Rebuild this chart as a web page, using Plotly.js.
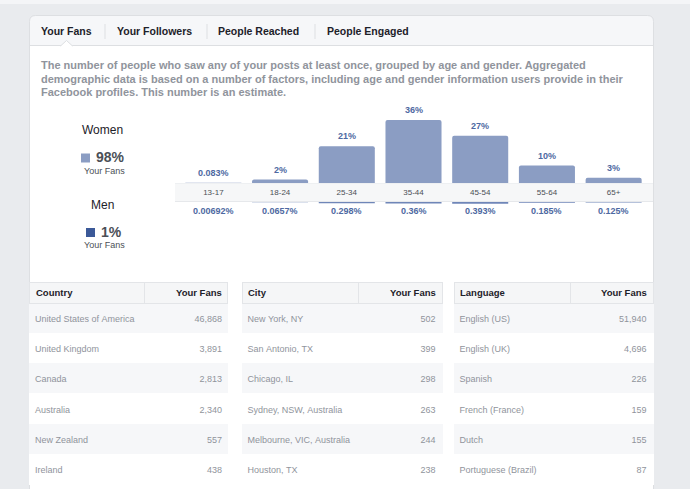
<!DOCTYPE html>
<html>
<head>
<meta charset="utf-8">
<script src="https://cdn.plot.ly/plotly-3.0.1.min.js"></script>
<style>html,body{margin:0;padding:0;background:#e9ebee;}#chart{width:690px;height:489px;}</style>
</head>
<body>
<div id="chart"></div>
<script>
// ---------- data ----------
const tabs = ['Your Fans', 'Your Followers', 'People Reached', 'People Engaged'];
const description = [
  'The number of people who saw any of your posts at least once, grouped by age and gender. Aggregated',
  'demographic data is based on a number of factors, including age and gender information users provide in their',
  'Facebook profiles. This number is an estimate.'
];
const genderNames = ['Women', 'Men'];
const genderShare = [98, 1];
const ageGroups = ['13-17', '18-24', '25-34', '35-44', '45-54', '55-64', '65+'];
const womenPct = [0.083, 2, 21, 36, 27, 10, 3];
const menPct = [0.00692, 0.0657, 0.298, 0.36, 0.393, 0.185, 0.125];

const tableHeads = [['Country', 'Your Fans'], ['City', 'Your Fans'], ['Language', 'Your Fans']];
const countryNames = ['United States of America', 'United Kingdom', 'Canada', 'Australia', 'New Zealand', 'Ireland'];
const countryFans = [46868, 3891, 2813, 2340, 557, 438];
const cityNames = ['New York, NY', 'San Antonio, TX', 'Chicago, IL', 'Sydney, NSW, Australia', 'Melbourne, VIC, Australia', 'Houston, TX'];
const cityFans = [502, 399, 298, 263, 244, 238];
const languageNames = ['English (US)', 'English (UK)', 'Spanish', 'French (France)', 'Dutch', 'Portuguese (Brazil)'];
const languageFans = [51940, 4696, 226, 159, 155, 87];

// ---------- layout helpers ----------
const W = 690, H = 489;
const X = p => p / W;
const Y = p => 1 - p / H;
const FONT = 'Liberation Sans, Arial, Helvetica, sans-serif';
const DARK = '#1d2129', GREY = '#90949c', MID = '#4b4f56', LABEL = '#4e69a2';
const WOMEN = '#8b9dc3', MEN = '#3b5998', BORDER = '#dddfe2';
const CLEAR = 'rgba(0,0,0,0)';

const shapes = [];
const annotations = [];

// page strip + card
shapes.push({type: 'rect', xref: 'paper', yref: 'paper', x0: 0, x1: 1, y0: Y(4), y1: 1,
  fillcolor: '#f4f5f7', line: {width: 0}, layer: 'below'});
(function () {
  const x0 = 29.5, x1 = 653.5, t = 15.5, b = 500, r = 6;
  const path = `M ${X(x0)},${Y(b)} L ${X(x0)},${Y(t + r)} Q ${X(x0)},${Y(t)} ${X(x0 + r)},${Y(t)} ` +
    `L ${X(x1 - r)},${Y(t)} Q ${X(x1)},${Y(t)} ${X(x1)},${Y(t + r)} L ${X(x1)},${Y(b)} Z`;
  shapes.push({type: 'path', xref: 'paper', yref: 'paper', path: path,
    fillcolor: '#f6f7f9', line: {color: BORDER, width: 1}, layer: 'below'});
  shapes.push({type: 'rect', xref: 'paper', yref: 'paper', x0: X(30), x1: X(653), y0: Y(500), y1: Y(45.5),
    fillcolor: '#ffffff', line: {width: 0}, layer: 'below'});
  shapes.push({type: 'line', xref: 'paper', yref: 'paper', x0: X(29.5), x1: X(653.5), y0: Y(45.5), y1: Y(45.5),
    line: {color: BORDER, width: 1}, layer: 'below'});
  shapes.push({type: 'path', xref: 'paper', yref: 'paper',
    path: `M ${X(60.5)},${Y(46)} L ${X(66.5)},${Y(40.5)} L ${X(72.5)},${Y(46)}`,
    fillcolor: '#ffffff', line: {color: BORDER, width: 1}, layer: 'below'});
})();

// tabs
const tabX = [39, 115, 216, 325];
const sepX = [105, 207, 315];
tabs.forEach((t, i) => {
  annotations.push({xref: 'paper', yref: 'paper', x: X(tabX[i]), y: Y(31), xanchor: 'left', yanchor: 'middle',
    text: '<b>' + t + '</b>', showarrow: false, font: {family: FONT, size: 10.5, color: DARK}});
});
sepX.forEach(s => shapes.push({type: 'line', xref: 'paper', yref: 'paper', x0: X(s), x1: X(s), y0: Y(24), y1: Y(39),
  line: {color: BORDER, width: 1}, layer: 'below'}));

// description
const descY = [65.5, 79, 92.5];
description.forEach((d, i) => annotations.push({xref: 'paper', yref: 'paper', x: X(39), y: Y(descY[i]),
  xanchor: 'left', yanchor: 'middle', text: '<b>' + d + '</b>', showarrow: false,
  font: {family: FONT, size: 11, color: GREY}}));

// gender legend
const gTitle = [[102.5, 130], [102, 205]];
const gSq = [[81, 153.5], [86, 228]];
const gPct = [[94.5, 157.5], [98.5, 232.5]];
const gSub = [[104, 170.5], [104, 244.5]];
const gCol = [WOMEN, MEN];
genderNames.forEach((g, i) => {
  annotations.push({xref: 'paper', yref: 'paper', x: X(gTitle[i][0]), y: Y(gTitle[i][1]), xanchor: 'center', yanchor: 'middle',
    text: g, showarrow: false, font: {family: FONT, size: 12, color: DARK}});
  shapes.push({type: 'rect', xref: 'paper', yref: 'paper', x0: X(gSq[i][0]), x1: X(gSq[i][0] + 9),
    y0: Y(gSq[i][1] + 9), y1: Y(gSq[i][1]), fillcolor: gCol[i], line: {width: 0}});
  annotations.push({xref: 'paper', yref: 'paper', x: X(gPct[i][0]), y: Y(gPct[i][1]), xanchor: 'left', yanchor: 'middle',
    text: '<b>' + genderShare[i] + '%</b>', showarrow: false, font: {family: FONT, size: 14, color: '#4b4f56'}});
  annotations.push({xref: 'paper', yref: 'paper', x: X(gSub[i][0]), y: Y(gSub[i][1]), xanchor: 'center', yanchor: 'middle',
    text: 'Your Fans', showarrow: false, font: {family: FONT, size: 9, color: MID}});
});

// age band
shapes.push({type: 'rect', xref: 'paper', yref: 'paper', x0: X(175), x1: X(653), y0: Y(202), y1: Y(183),
  fillcolor: '#f6f7f8', line: {width: 0}, layer: 'below'});
shapes.push({type: 'line', xref: 'paper', yref: 'paper', x0: X(175), x1: X(653), y0: Y(201.5), y1: Y(201.5),
  line: {color: '#e6e8eb', width: 1}, layer: 'below'});
shapes.push({type: 'line', xref: 'paper', yref: 'paper', x0: X(175), x1: X(653), y0: Y(183.5), y1: Y(183.5),
  line: {color: '#eef0f2', width: 1}, layer: 'below'});

// bar labels
const fmt = v => v + '%';
ageGroups.forEach((a, i) => {
  annotations.push({xref: 'x', yref: 'y', x: a, y: womenPct[i], xanchor: 'center', yanchor: 'bottom', yshift: 3,
    text: '<b>' + fmt(womenPct[i]) + '</b>', showarrow: false, font: {family: FONT, size: 9, color: LABEL}});
  annotations.push({xref: 'x2', yref: 'paper', x: a, y: Y(211.5), xanchor: 'center', yanchor: 'middle',
    text: '<b>' + fmt(menPct[i]) + '</b>', showarrow: false, font: {family: FONT, size: 9, color: LABEL}});
});

const xDom = [X(180), X(647)];
const womenTop = 100, womenBase = 183, pxPerPct = 1.75;
const menTop = 202, menBottom = 262, menPxPerPct = 4.5;

// ---------- tables ----------
const tableX = [[29.5, 228], [242, 442], [454, 653]];
const headTop = 282, headH = 21, rowH = 30.3, textDrop = 4;
const rowFill = countryNames.map((_, i) => i % 2 === 0 ? '#f6f7f9' : '#ffffff');
const num = v => v.toLocaleString('en-US');
const keep = s => s.replace(/ /g, '\u00a0');
function tables(names, fans, k) {
  const [x0, x1] = tableX[k];
  annotations.push({xref: 'paper', yref: 'paper', x: X(x0 + 4), y: Y(headTop + headH / 2), xanchor: 'left', yanchor: 'middle',
    text: '<b>' + tableHeads[k][0] + '</b>', showarrow: false, font: {family: FONT, size: 9.5, color: DARK}});
  annotations.push({xref: 'paper', yref: 'paper', x: X(x1 - 4), y: Y(headTop + headH / 2), xanchor: 'right', yanchor: 'middle',
    text: '<b>' + tableHeads[k][1] + '</b>', showarrow: false, font: {family: FONT, size: 9.5, color: DARK}});
  const blank = names.map(() => '');
  // cell backgrounds
  const cellsTable = {
    type: 'table',
    domain: {x: [X(x0), X(x1)], y: [0, Y(headTop)]},
    columnwidth: [116, 83],
    header: {values: ['', ''], height: headH, fill: {color: '#f5f6f7'}, line: {color: '#e3e5e8', width: 1}},
    cells: {values: [blank, blank], height: rowH,
      fill: {color: [rowFill, rowFill]}, line: {color: [rowFill, rowFill], width: 1}}
  };
  // cell texts
  const hh = headH - textDrop;
  const textTable = {
    type: 'table',
    domain: {x: [X(x0 - 2.5), X(x1 + 2)], y: [0, Y(headTop + textDrop + (headH - hh))]},
    columnwidth: [116, 83],
    header: {values: ['', ''], height: hh, fill: {color: CLEAR}, line: {color: CLEAR, width: 0}},
    cells: {
      values: [names.map(keep), fans.map(num)],
      align: ['left', 'right'], height: rowH,
      fill: {color: CLEAR}, line: {color: CLEAR, width: 0},
      font: {family: FONT, size: 9, color: GREY}
    }
  };
  return [cellsTable, textTable];
}

const data = [
  {type: 'bar', x: ageGroups, y: womenPct, xaxis: 'x', yaxis: 'y', marker: {color: WOMEN, cornerradius: 2},
    hoverinfo: 'none', showlegend: false},
  {type: 'bar', x: ageGroups, y: menPct, xaxis: 'x2', yaxis: 'y2', marker: {color: '#6f86b8'},
    hoverinfo: 'none', showlegend: false},
  ...tables(countryNames, countryFans, 0),
  ...tables(cityNames, cityFans, 1),
  ...tables(languageNames, languageFans, 2)
];

const axisBase = {type: 'category', range: [-0.5, 6.5], domain: xDom, showgrid: false, zeroline: false,
  showline: false, ticks: '', fixedrange: true};

const layout = {
  width: W, height: H,
  margin: {l: 0, r: 0, t: 0, b: 0, pad: 0},
  paper_bgcolor: '#e9ebee', plot_bgcolor: 'rgba(0,0,0,0)',
  showlegend: false, bargap: 0.16,
  font: {family: FONT},
  xaxis: Object.assign({}, axisBase, {anchor: 'y', showticklabels: true, ticklabelstandoff: 3,
    tickfont: {family: FONT, size: 8, color: MID}}),
  xaxis2: Object.assign({}, axisBase, {anchor: 'y2', showticklabels: false}),
  yaxis: {domain: [Y(womenBase), Y(womenTop)], range: [0, (womenBase - womenTop) / pxPerPct], visible: false, fixedrange: true},
  yaxis2: {domain: [Y(menBottom), Y(menTop)], range: [(menBottom - menTop) / menPxPerPct, 0], visible: false, fixedrange: true},
  shapes: shapes,
  annotations: annotations
};

Plotly.newPlot('chart', data, layout, {displayModeBar: false, staticPlot: true});
</script>
</body>
</html>
